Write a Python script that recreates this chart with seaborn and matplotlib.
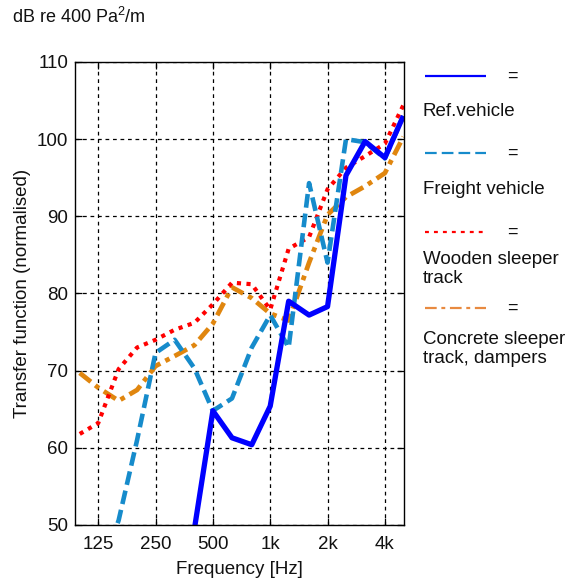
import numpy as np
import pandas as pd
import matplotlib
matplotlib.use("Agg")
import matplotlib.pyplot as plt
from matplotlib.lines import Line2D
import seaborn as sns

# Third-octave band centre frequencies (Hz)
freq = [100, 125, 160, 200, 250, 315, 400, 500, 630, 800,
        1000, 1250, 1600, 2000, 2500, 3150, 4000, 5000]

# Transfer functions, dB re 400 Pa^2/m (NaN where no value is given)
nan = np.nan
ref_vehicle = [nan, nan, nan, nan, nan, 40.0, 49.5, 64.8, 61.3, 60.4,
               65.4, 79.0, 77.2, 78.3, 95.3, 99.7, 97.6, 103.0]
freight_vehicle = [nan, 43.0, 50.6, 61.0, 72.3, 74.0, 70.3, 64.8, 66.4, 73.0,
                   77.2, 73.0, 94.3, 84.0, 100.0, 99.6, 97.5, 103.0]
wooden_sleeper = [61.8, 63.2, 70.2, 73.0, 74.0, 75.3, 76.2, 78.6, 81.4, 81.2,
                  77.9, 85.8, 87.3, 93.5, 96.3, 97.8, 99.4, 104.4]
concrete_sleeper = [69.7, 67.8, 66.1, 67.5, 70.6, 71.9, 73.3, 76.1, 80.8, 79.4,
                    77.4, 76.5, 84.0, 90.2, 92.5, 93.9, 95.6, 100.3]

series_names = ["Ref.vehicle", "Freight vehicle",
                "Wooden sleeper\ntrack", "Concrete sleeper\ntrack, dampers"]
x_ticks = [125, 250, 500, 1000, 2000, 4000]
x_tick_labels = ["125", "250", "500", "1k", "2k", "4k"]
y_ticks = [50, 60, 70, 80, 90, 100, 110]

sns.set_theme(style="white")
plt.rcParams["font.family"] = ["Liberation Sans", "DejaVu Sans"]
plt.rcParams["mathtext.fontset"] = "custom"
plt.rcParams["mathtext.rm"] = "Liberation Sans"
plt.rcParams["mathtext.it"] = "Liberation Sans"

colors = ["#0000ff", "#168bcb", "#ff0000", "#e0860f"]
legend_colors = ["#0000ff", "#168bcb", "#ff0000", "#e88a40"]
styles = [
    dict(lw=3.8, linestyle="-"),
    dict(lw=3.3, dashes=(3.0, 1.3)),
    dict(lw=3.0, dashes=(1.0, 1.3)),
    dict(lw=3.4, dashes=(3.0, 1.2, 1.0, 1.2)),
]

df = pd.DataFrame({"freq": freq, series_names[0]: ref_vehicle,
                   series_names[1]: freight_vehicle,
                   series_names[2]: wooden_sleeper,
                   series_names[3]: concrete_sleeper})

fig = plt.figure(figsize=(5.71, 5.83), dpi=100)
fig.patch.set_facecolor("white")
ax = fig.add_axes([0.1313, 0.0995, 0.5762, 0.7942])

# Draw from the last series to the first so the reference curve sits on top
for i in [3, 2, 1, 0]:
    name = series_names[i]
    sub = df[["freq", name]].dropna()
    st = styles[i]
    kw = dict(lw=st["lw"], color=colors[i], solid_capstyle="butt",
              dash_capstyle="butt")
    if "dashes" in st:
        kw["dashes"] = st["dashes"]
    sns.lineplot(x=sub["freq"], y=sub[name], ax=ax, sort=False,
                 estimator=None, **kw)

ax.set_xscale("log")
ax.set_xlim(100 * 2 ** (-1 / 12), 5040)
ax.set_ylim(50, 110)
ax.set_xticks(x_ticks)
ax.set_xticklabels(x_tick_labels)
ax.xaxis.set_minor_locator(matplotlib.ticker.NullLocator())
ax.set_yticks(y_ticks)
ax.tick_params(axis="both", direction="in", length=5, width=0.9,
               color="black", labelsize=13.5, labelcolor="#111111",
               top=True, right=True, bottom=True, left=True, pad=5)
ax.tick_params(axis="x", pad=8)
ax.grid(True, color="black", linestyle=(0, (3, 3)), linewidth=0.9)
for s in ax.spines.values():
    s.set_color("black")
    s.set_linewidth(1.0)
ax.set_xlabel("Frequency [Hz]", fontsize=13.5, color="#111111", labelpad=6)
ax.set_ylabel("Transfer function (normalised)", fontsize=13.5,
              color="#111111", labelpad=4)

fig.text(12 / 571, 1 - 17 / 583, r"dB re 400 Pa$^{2}$/m", fontsize=13,
         color="#111111", va="center", ha="left")

# Legend drawn to the right of the axes: line sample, "=", label below
line_y = [76, 153, 232, 308]
label_y = [112, 190, 269, 349]
for i in range(4):
    yl = 1 - line_y[i] / 583
    st = styles[i]
    lkw = dict(color=legend_colors[i], lw=1.6, transform=fig.transFigure,
               solid_capstyle="butt", dash_capstyle="butt")
    if "dashes" in st:
        lkw["dashes"] = [d * 3.3 / 1.6 * 0.85 for d in st["dashes"]]
    fig.add_artist(Line2D([425 / 571, 486 / 571], [yl, yl], **lkw))
    fig.text(512 / 571, yl, "=", fontsize=13, color="#111111",
             ha="center", va="center")
    fig.text(423 / 571, 1 - label_y[i] / 583, series_names[i],
             fontsize=13.5, color="#111111", ha="left", va="center",
             linespacing=1.2)

fig.savefig("out.png", dpi=100, facecolor="white")
